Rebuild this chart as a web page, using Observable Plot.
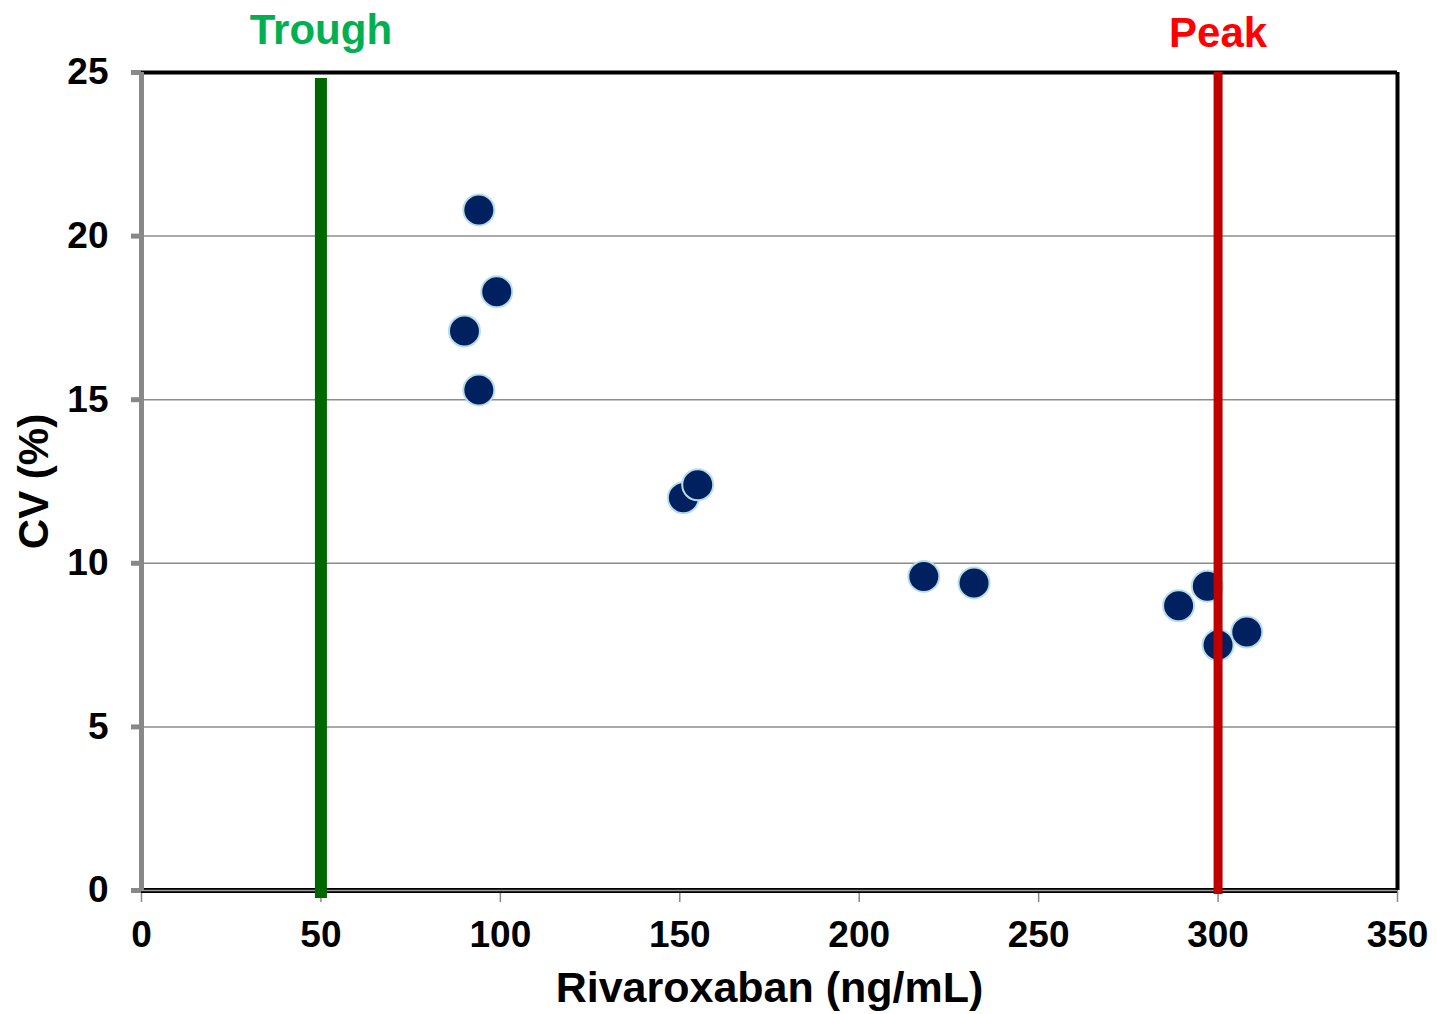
<!DOCTYPE html>
<html>
<head>
<meta charset="utf-8">
<script src="https://cdn.jsdelivr.net/npm/d3@7"></script>
<script src="https://cdn.jsdelivr.net/npm/@observablehq/plot@0.6"></script>
<style>
  html, body { margin: 0; padding: 0; background: #fff; }
</style>
</head>
<body>
<div id="chart"></div>
<script>
// Data
const concentration = [94, 99, 90, 94, 151, 155, 218, 232, 289, 297, 300, 308];
const cv = [20.8, 18.3, 17.1, 15.3, 12.0, 12.4, 9.6, 9.4, 8.7, 9.3, 7.5, 7.9];
const referenceLabels = ["Trough", "Peak"];
const referenceValues = [50, 300];
const xTicks = [0, 50, 100, 150, 200, 250, 300, 350];
const yTicks = [0, 5, 10, 15, 20, 25];
const xLabel = "Rivaroxaban (ng/mL)";
const yLabel = "CV (%)";

const points = concentration.map((x, i) => ({x, y: cv[i]}));
const refs = referenceLabels.map((label, i) => ({label, x: referenceValues[i]}));
const trough = refs.filter(d => d.label === "Trough");
const peak = refs.filter(d => d.label === "Peak");
const xMax = xTicks[xTicks.length - 1];
const yMax = yTicks[yTicks.length - 1];

const font = "'Liberation Sans', Arial, Helvetica, sans-serif";

const chart = Plot.plot({
  width: 1437,
  height: 1014,
  marginLeft: 141,
  marginRight: 40,
  marginTop: 72,
  marginBottom: 124,
  x: {domain: [0, xMax]},
  y: {domain: [0, yMax]},
  style: {fontFamily: font, fontWeight: "bold", background: "#fff", color: "#000"},
  marks: [
    // horizontal gridlines
    Plot.ruleY(yTicks.filter(t => t > 0 && t < yMax), {stroke: "#8c8c8c", strokeWidth: 1.5}),
    // axes
    Plot.axisX({ticks: xTicks, tickSize: 12, tickPadding: 18, stroke: "#888", strokeWidth: 1.5,
      fill: "#000", fontSize: 37, fontWeight: "bold", label: null}),
    Plot.axisY({ticks: yTicks, tickSize: 10, tickPadding: 23, stroke: "#888", strokeWidth: 5,
      fill: "#000", fontSize: 37, fontWeight: "bold", label: null}),
    // frame
    Plot.ruleY([0], {stroke: "#000", strokeWidth: 5}),
    Plot.ruleY([0], {stroke: "#9a9a9a", strokeWidth: 1.5}),
    Plot.ruleY([yMax], {stroke: "#000", strokeWidth: 4}),
    Plot.ruleX([xMax], {stroke: "#000", strokeWidth: 4}),
    Plot.ruleX([0], {stroke: "#888", strokeWidth: 5}),
    // data points
    Plot.dot(points, {x: "x", y: "y", r: 15.5, fill: "#002060", stroke: "#b7dee8", strokeWidth: 2}),
    // reference lines
    Plot.ruleX(trough, {x: "x", stroke: "#006600", strokeWidth: 12, insetTop: 6, insetBottom: -8}),
    Plot.ruleX(peak, {x: "x", stroke: "#c00000", strokeWidth: 9, insetBottom: -4}),
    // reference labels
    Plot.text(trough, {x: "x", y: () => yMax, text: "label", fill: "#00b050", fontSize: 42,
      fontWeight: "bold", lineAnchor: "bottom", dy: -29}),
    Plot.text(peak, {x: "x", y: () => yMax, text: "label", fill: "#ff0000", fontSize: 42,
      fontWeight: "bold", lineAnchor: "bottom", dy: -26}),
    // axis titles
    Plot.text([xLabel], {frameAnchor: "bottom", text: d => d, fontSize: 43, fontWeight: "bold",
      textAnchor: "middle", lineAnchor: "bottom", dy: 111, fill: "#000"}),
    Plot.text([yLabel], {frameAnchor: "left", text: d => d, fontSize: 42, fontWeight: "bold",
      rotate: -90, textAnchor: "middle", lineAnchor: "bottom", dx: -94, fill: "#000"})
  ]
});

document.getElementById("chart").appendChild(chart);
</script>
</body>
</html>
